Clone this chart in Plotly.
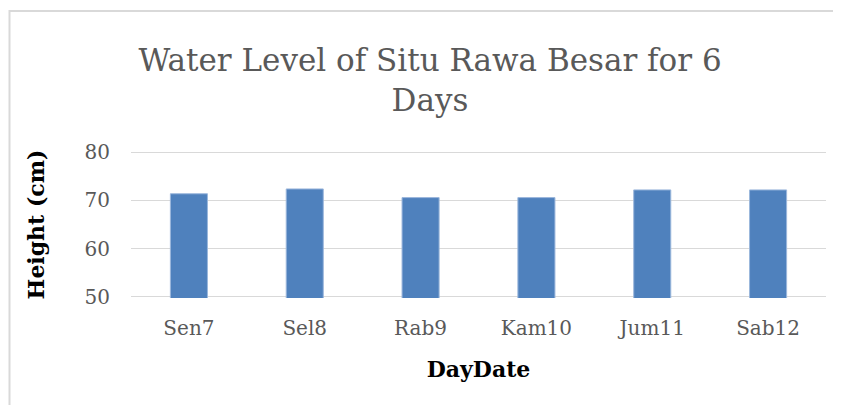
import plotly.graph_objects as go

# Water level readings per day
days = ['Sen7', 'Sel8', 'Rab9', 'Kam10', 'Jum11', 'Sab12']
height_cm = [71.4, 72.4, 70.6, 70.6, 72.2, 72.2]
y_ticks = [50, 60, 70, 80]

serif = 'DejaVu Serif'

fig = go.Figure(go.Bar(x=days, y=height_cm, marker=dict(color='#4f81bd', line=dict(color='#9bb7dc', width=1))))

# page body has an 8px offset, so the plot area is placed accordingly
L, R, T, B = 123, 23, 143, 115
pw, ph = 841 - L - R, 405 - T - B

fig.update_layout(
    width=841, height=405,
    margin=dict(l=L, r=R, t=T, b=B),
    paper_bgcolor='white', plot_bgcolor='white',
    showlegend=False,
    bargap=0.68,
    font=dict(family=serif, color='#595959'),
    title=dict(text='Water Level of Situ Rawa Besar for 6<br>Days', x=422 / 841, xanchor='center',
               y=1 - 63 / 405, yanchor='middle', xref='container', yref='container',
               font=dict(family=serif, size=31, color='#595959')),
    xaxis=dict(showgrid=False, showline=False, ticks='', ticklabelstandoff=16,
               tickfont=dict(size=20, color='#595959'),
               title=dict(text='<b>DayDate</b>', font=dict(family=serif, size=22, color='black'), standoff=22)),
    yaxis=dict(range=[49.7, 80.3], tickvals=y_ticks, showgrid=True, gridcolor='#d9d9d9', gridwidth=1,
               zeroline=False, showline=False, ticks='', ticklabelstandoff=20,
               tickfont=dict(size=20, color='#595959'),
               title=dict(text='<b>Height (cm)</b>', font=dict(family=serif, size=22, color='black'), standoff=33)),
)

# outer chart frame (only top and left edges visible in the crop)
fig.add_shape(type='rect', xref='paper', yref='paper',
              x0=(1.5 - L) / pw, x1=1.2, y0=-1.0, y1=(405 - B - 3) / ph,
              line=dict(color='#d9d9d9', width=2), layer='below')

fig.write_html('out.html')
